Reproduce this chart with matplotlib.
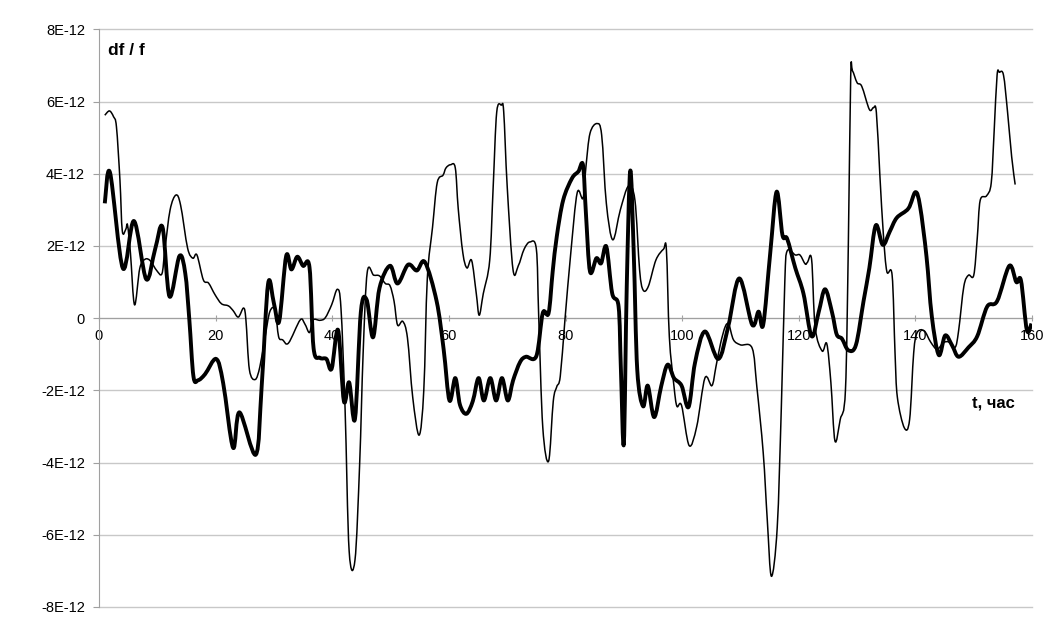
import numpy as np
import matplotlib.pyplot as plt
from matplotlib.path import Path
from matplotlib.patches import PathPatch
from matplotlib.ticker import FixedLocator, FuncFormatter

# thin series: time (hours) and df/f (units of 1E-12)
t_thin = [1.0, 1.8, 2.5, 3.0, 3.6, 4.0, 4.6, 4.9, 5.4, 6.1, 7.0, 7.9, 8.8, 9.9,
          10.8, 11.3, 12.2, 13.2, 14.0, 15.2, 16.1, 16.8, 17.9, 18.8, 19.9, 21.0,
          22.2, 23.0, 23.9, 24.8, 25.2, 25.8, 26.8, 27.6, 28.5, 29.3, 30.2, 30.8,
          31.5, 32.5, 34.5, 35.3, 36.1, 36.7, 37.9, 38.8, 39.9, 40.9, 41.5, 42.2,
          42.9, 43.9, 44.7, 45.3, 46.0, 47.1, 48.1, 49.1, 49.9, 50.6, 51.2, 52.1,
          52.9, 53.8, 54.9, 55.7, 56.3, 57.2, 58.0, 59.0, 59.5, 60.3, 61.1, 61.6,
          62.4, 63.1, 63.9, 64.7, 65.2, 65.9, 67.0, 67.6, 68.2, 69.0, 69.4, 70.0,
          71.0, 71.9, 72.9, 73.9, 75.0, 75.4, 76.1, 77.1, 77.9, 78.5, 79.1, 79.9,
          80.9, 82.0, 83.0, 83.5, 84.2, 85.4, 86.2, 87.0, 88.1, 89.4, 90.8, 91.9,
          92.7, 93.3, 94.2, 95.5, 96.8, 97.3, 97.8, 98.6, 99.1, 99.9, 101.2, 102.5,
          103.9, 105.1, 105.8, 106.6, 107.4, 108.0, 108.8, 110.0, 112.0, 112.8,
          113.9, 114.6, 115.3, 116.3, 117.0, 117.6, 118.0, 119.4, 120.2, 121.1,
          121.5, 122.2, 122.8, 124.0, 124.8, 125.5, 126.2, 127.1, 128.0, 128.5,
          128.9, 129.2, 130.0, 130.8, 132.1, 132.8, 133.3, 133.9, 134.5, 135.1,
          136.0, 136.5, 136.9, 138.1, 139.0, 139.7, 140.3, 141.5, 142.6, 143.7,
          144.8, 145.7, 146.8, 147.4, 148.3, 149.1, 150.0, 150.6, 151.1, 152.2,
          153.0, 153.5, 154.0, 154.4, 155.1, 155.8, 156.5, 157.1]
v_thin = [5.62, 5.74, 5.58, 5.3, 3.82, 2.42, 2.46, 2.58, 1.8, 0.37, 1.38, 1.63, 1.59, 1.32,
          1.23, 1.89, 3.0, 3.41, 3.13, 1.94, 1.66, 1.75, 1.06, 0.97, 0.65, 0.4,
          0.34, 0.21, 0.03, 0.28, -0.05, -1.43, -1.7, -1.34, -0.51, 0.18, 0.23, -0.51,
          -0.6, -0.69, -0.05, -0.16, -0.4, -0.05, -0.06, 0.01, 0.37, 0.8, 0.27, -2.5,
          -6.45, -6.7, -4.04, -0.96, 1.27, 1.19, 1.17, 0.96, 0.9, 0.47, -0.19, -0.09,
          -0.55, -2.19, -3.24, -1.99, 1.09, 2.52, 3.75, 3.96, 4.16, 4.25, 4.16, 3.04,
          1.8, 1.39, 1.6, 0.68, 0.08, 0.68, 1.6, 3.65, 5.7, 5.9, 5.72, 3.65,
          1.34, 1.45, 1.91, 2.11, 1.91, 0.06, -3.02, -3.96, -2.3, -1.9, -1.61, -0.05,
          1.8, 3.47, 3.32, 4.19, 5.12, 5.39, 5.07, 3.18, 2.17, 3.0, 3.66, 3.27,
          1.34, 0.78, 0.88, 1.61, 1.91, 1.89, -0.51, -1.89, -2.44, -2.42, -3.53, -3.0,
          -1.66, -1.87, -1.34, -0.69, -0.23, -0.18, -0.6, -0.74, -0.83, -1.89,
          -3.73, -5.6, -7.15, -5.8, -2.5, 1.0, 1.86, 1.75, 1.75, 1.5,
          1.55, 1.62, -0.25, -0.91, -0.71, -1.78, -3.4, -2.81, -1.99, 2.11,
          6.7, 6.85, 6.52, 6.42, 5.78, 5.83, 5.7, 3.96, 2.32, 1.29,
          1.19, -0.96, -2.19, -3.04, -2.81, -0.96, -0.4, -0.35, -0.66, -0.86,
          -0.68, -0.66, -0.81, -0.35, 0.88, 1.19, 1.19, 2.22, 3.26, 3.39,
          3.75, 5.19, 6.73, 6.81, 6.73, 5.7, 4.47, 3.7]

# thick series
t_thick = [1.0, 1.9, 4.1, 6.0, 8.1, 9.6, 10.9, 12.1, 13.8, 14.8, 15.5, 16.2, 17.0,
           18.2, 20.1, 21.3, 23.0, 24.1, 26.9, 27.9, 29.0, 30.0, 30.9, 32.1, 33.0,
           34.0, 35.0, 36.1, 36.8, 37.9, 39.0, 39.9, 41.0, 42.0, 42.9, 43.9, 44.9,
           45.9, 47.0, 48.1, 49.9, 51.2, 53.0, 54.5, 55.9, 57.9, 59.1, 60.1, 61.1,
           61.9, 63.0, 64.1, 65.1, 66.0, 67.1, 68.1, 69.1, 70.1, 71.0, 72.2, 73.2,
           75.0, 76.1, 77.1, 77.8, 78.5, 79.6, 81.1, 82.2, 83.0, 83.5, 84.2, 85.3,
           86.1, 87.0, 88.0, 89.1, 89.5, 90.0, 90.5, 91.1, 91.7, 92.3, 93.3, 94.1,
           95.2, 96.4, 97.5, 98.6, 99.9, 101.1, 102.2, 103.9, 106.2, 107.9, 109.8,
           112.0, 113.1, 113.9, 115.1, 116.2, 117.2, 118.0, 119.4, 120.8, 122.2,
           123.4, 124.5, 125.7, 126.5, 127.4, 128.5, 129.8, 131.1, 132.1, 133.2,
           134.4, 135.6, 136.8, 138.8, 140.0, 140.8, 141.9, 142.8, 144.0, 145.1,
           146.3, 147.4, 149.1, 150.6, 152.3, 154.0, 156.1, 157.3, 158.1, 159.1, 159.9]
v_thick = [3.18, 4.03, 1.38, 2.69, 1.08, 1.89, 2.52, 0.6, 1.72, 1.24, -0.05, -1.61, -1.72,
           -1.55, -1.13, -1.8, -3.59, -2.61, -3.78, -1.89, 0.95, 0.41, -0.09, 1.72, 1.35,
           1.7, 1.45, 1.41, -0.83, -1.1, -1.13, -1.4, -0.33, -2.3, -1.78, -2.79, 0.16,
           0.51, -0.53, 0.83, 1.45, 0.96, 1.48, 1.32, 1.55, 0.47, -0.86, -2.28, -1.66,
           -2.4, -2.65, -2.3, -1.66, -2.28, -1.66, -2.28, -1.66, -2.28, -1.73, -1.22, -1.07,
           -1.05, 0.14, 0.14, 1.29, 2.26, 3.27, 3.87, 4.06, 4.24, 2.9, 1.29, 1.66,
           1.52, 1.98, 0.69, 0.32, -1.43, -3.47, 0.88, 4.08, 1.8, -1.43, -2.44, -1.87,
           -2.74, -1.89, -1.29, -1.66, -1.87, -2.46, -1.24, -0.37, -1.13, -0.23, 1.1,
           -0.18, 0.18, -0.18, 1.8, 3.5, 2.3, 2.2, 1.39, 0.68, -0.5,
           0.16, 0.8, 0.16, -0.45, -0.57, -0.89, -0.74, 0.47, 1.39, 2.57,
           2.03, 2.4, 2.78, 3.04, 3.49, 3.09, 1.7, 0.06, -1.02, -0.48,
           -0.76, -1.07, -0.81, -0.5, 0.32, 0.47, 1.45, 1.0, 1.04, -0.33, -0.15]

scale = 1e-12
yticks = np.arange(-8, 9, 2)
xticks = np.arange(0, 161, 20)


def smooth_line(ax, x, y, lw):
    # spreadsheet-style smoothed line: cubic Bezier segments through the points
    pts = np.column_stack([x, y])
    ext = np.vstack([pts[0], pts, pts[-1]])
    verts = [pts[0]]
    codes = [Path.MOVETO]
    for i in range(1, len(ext) - 2):
        p0, p1, p2, p3 = ext[i - 1], ext[i], ext[i + 1], ext[i + 2]
        verts += [p1 + (p2 - p0) / 6, p2 - (p3 - p1) / 6, p2]
        codes += [Path.CURVE4] * 3
    patch = PathPatch(Path(verts, codes), fill=False, edgecolor='black',
                      linewidth=lw, joinstyle='round', capstyle='butt', zorder=3)
    ax.add_patch(patch)


plt.rcParams['font.family'] = ['Liberation Sans', 'DejaVu Sans']

fig = plt.figure(figsize=(10.64, 6.32), dpi=100)
ax = fig.add_axes([0.093, 0.0396, 0.877, 0.914])

smooth_line(ax, t_thin, np.array(v_thin) * scale, 1.1)
smooth_line(ax, t_thick, np.array(v_thick) * scale, 2.8)

ax.set_xlim(0, 160)
ax.set_ylim(-8 * scale, 8 * scale)

# grid and axes like the spreadsheet chart
ax.yaxis.set_major_locator(FixedLocator(yticks * scale))
ax.xaxis.set_major_locator(FixedLocator(xticks))
ax.yaxis.set_major_formatter(FuncFormatter(
    lambda v, p: '0' if abs(v) < 1e-15 else f'{round(v / scale):d}E-12'))
ax.grid(axis='y', color='#c8c8c8', linewidth=1.0, zorder=0)
for line in ax.get_ygridlines():
    line.set_clip_on(False)
for s in ['top', 'right']:
    ax.spines[s].set_visible(False)
ax.spines['left'].set_color('#a0a0a0')
ax.spines['bottom'].set_position(('data', 0))
ax.spines['bottom'].set_color('#a0a0a0')
ax.tick_params(axis='y', length=4, color='#a0a0a0', labelsize=10.5, pad=6)
ax.tick_params(axis='x', direction='inout', length=4, color='#a0a0a0',
               labelsize=10.5, pad=6)

ax.text(1.5, 7.42 * scale, 'df / f', fontsize=12.5, fontweight='bold',
        ha='left', va='center')
ax.text(149.7, -2.34 * scale, 't, час', fontsize=12, fontweight='bold',
        ha='left', va='center')

fig.savefig('out.png', dpi=100)
